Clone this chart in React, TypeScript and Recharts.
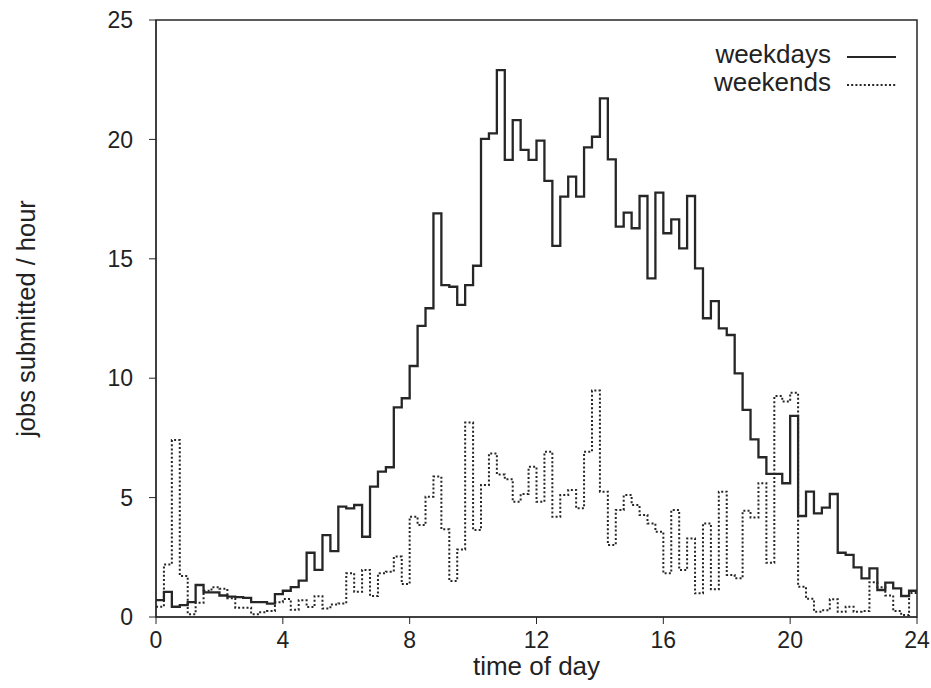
import { LineChart, Line, XAxis, YAxis, ReferenceArea } from 'recharts';

// quarter-hour bins, jobs submitted per hour
const WEEKDAYS = [
  0.71, 1.05, 0.43, 0.5, 0.62, 1.34, 1.03, 1.03, 0.9, 0.85, 0.83, 0.8,
  0.62, 0.62, 0.56, 0.96, 1.1, 1.25, 1.52, 2.69, 1.97, 3.43, 2.76, 4.62,
  4.55, 4.69, 3.36, 5.46, 6.09, 6.27, 8.78, 9.16, 10.51, 12.19, 12.93, 16.9,
  13.9, 13.83, 13.07, 13.9, 14.71, 20.02, 20.25, 22.9, 19.14, 20.81, 19.56, 19.14,
  19.95, 18.26, 15.54, 17.6, 18.44, 17.6, 19.67, 20.11, 21.72, 19.16, 16.35, 16.93,
  16.28, 17.63, 14.18, 17.77, 16.07, 16.65, 15.44, 17.63, 14.6, 12.51, 13.23, 12.09,
  11.81, 10.2, 8.67, 7.44, 6.69, 5.99, 5.99, 5.6, 8.42, 4.23, 5.25, 4.34,
  4.58, 5.15, 2.69, 2.6, 2.08, 1.62, 2.04, 1.13, 1.44, 1.2, 0.88, 1.1,
];

const WEEKENDS = [
  0.43, 2.2, 7.41, 1.72, 0.12, 0.6, 1.1, 1.25, 1.18, 0.79, 0.39, 0.39,
  0.12, 0.2, 0.25, 0.62, 0.75, 0.3, 0.7, 0.42, 0.87, 0.36, 0.52, 0.57,
  1.83, 1.06, 1.97, 0.88, 1.83, 1.9, 2.53, 1.38, 4.2, 3.85, 5.04, 5.88,
  3.67, 1.51, 2.83, 8.14, 3.64, 5.53, 6.85, 5.97, 5.77, 4.83, 5.15, 6.29,
  4.83, 6.92, 4.2, 5.11, 5.32, 4.55, 6.92, 9.48, 5.25, 3.02, 4.48, 5.11,
  4.69, 4.27, 3.92, 3.57, 1.83, 4.48, 1.97, 3.29, 0.99, 3.92, 1.16, 5.25,
  1.76, 1.62, 4.45, 4.17, 5.6, 2.27, 9.25, 9.02, 9.39, 1.27, 0.76, 0.22,
  0.28, 0.74, 0.22, 0.43, 0.22, 0.25, 1.45, 1.25, 0.9, 0.25, 0.08, 1.0,
];

// bin start times (hours); one extra edge at 24 closes the last step
const BIN_START = Array.from({ length: WEEKDAYS.length + 1 }, (_, i) => i * 0.25);

const X_TICKS = [0, 4, 8, 12, 16, 20, 24];
const Y_TICKS = [0, 5, 10, 15, 20, 25];

const SERIES_LABELS = ['weekdays', 'weekends'];

const INK = '#262626';
const TEXT = '#222';
const FONT = '"Liberation Sans", Arial, Helvetica, sans-serif';
const DOTS = '2 2.2';

const data = BIN_START.map((t, i) => {
  const k = Math.min(i, WEEKDAYS.length - 1);
  return { t, weekdays: WEEKDAYS[k], weekends: WEEKENDS[k] };
});

// key in the top right corner, text right-aligned with a line sample after it
function Key() {
  return (
    <svg width={931} height={120} style={{ position: 'absolute', left: 0, top: 0, pointerEvents: 'none' }}>
      {SERIES_LABELS.map((label, i) => {
        const base = 63 + i * 28;
        return (
          <g key={label}>
            <text x={831} y={base} textAnchor="end" fontFamily={FONT} fontSize={26} fill={TEXT}>
              {label}
            </text>
            <line
              x1={847}
              x2={896}
              y1={base - 6}
              y2={base - 6}
              stroke={INK}
              strokeWidth={i === 0 ? 2 : 1.8}
              strokeDasharray={i === 0 ? undefined : DOTS}
            />
          </g>
        );
      })}
    </svg>
  );
}

export default function App() {
  return (
    <div style={{ position: 'absolute', left: 0, top: 0, width: 931, height: 688, background: '#fff' }}>
      <LineChart width={931} height={688} data={data} margin={{ top: 20, right: 14, left: 0, bottom: 0 }}>
        <XAxis
          dataKey="t"
          type="number"
          domain={[0, 24]}
          ticks={X_TICKS}
          interval={0}
          height={71}
          stroke={INK}
          tickSize={7}
          tickMargin={8}
          tick={{ fill: TEXT, fontSize: 23, fontFamily: FONT }}
          label={{ value: 'time of day', position: 'insideBottom', offset: 13, fill: TEXT, fontSize: 26, fontFamily: FONT }}
        />
        <YAxis
          type="number"
          domain={[0, 25]}
          ticks={Y_TICKS}
          interval={0}
          width={156}
          stroke={INK}
          tickSize={7}
          tickMargin={16}
          tick={{ fill: TEXT, fontSize: 23, fontFamily: FONT }}
          label={{
            value: 'jobs submitted / hour',
            angle: -90,
            position: 'insideLeft',
            offset: 26,
            fill: TEXT,
            fontSize: 25.5,
            fontFamily: FONT,
            style: { textAnchor: 'middle' },
          }}
        />
        <ReferenceArea x1={0} x2={24} y1={0} y2={25} fill="none" stroke={INK} strokeWidth={1.5} ifOverflow="visible" />
        <Line
          dataKey="weekdays"
          type="stepAfter"
          stroke={INK}
          strokeWidth={2.3}
          dot={false}
          isAnimationActive={false}
        />
        <Line
          dataKey="weekends"
          type="stepAfter"
          stroke={INK}
          strokeWidth={2}
          strokeDasharray={DOTS}
          dot={false}
          isAnimationActive={false}
        />
      </LineChart>
      <Key />
    </div>
  );
}
